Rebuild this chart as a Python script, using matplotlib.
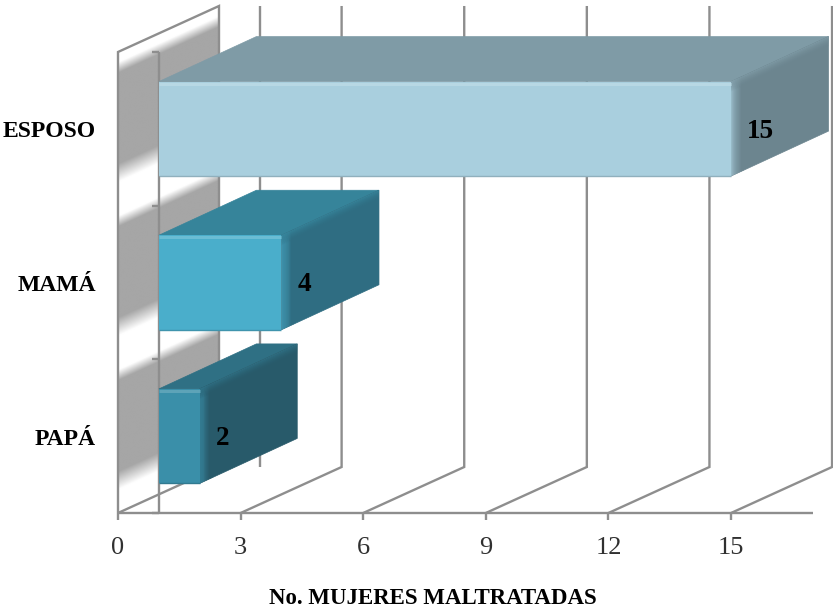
import numpy as np
import matplotlib
matplotlib.use("Agg")
import matplotlib.pyplot as plt
from matplotlib.colors import LinearSegmentedColormap, to_rgb
from matplotlib.patches import Polygon

categories = ["PAPÁ", "MAMÁ", "ESPOSO"]
values = [2, 4, 15]
x_ticks = [0, 3, 6, 9, 12, 15]
x_label = "No. MUJERES MALTRATADAS"
face_colors = ["#3a8fa9", "#4aaecb", "#a9cfde"]
top_colors = ["#2f7084", "#36849a", "#7f9ba6"]
side_colors = ["#285a6a", "#2f6d82", "#6c858f"]

PX_X = 40.87    # pixels per value unit
PX_Y = 153.67   # pixels per category band
BASE = 1        # category axis crosses the value axis here
X_MAX = 17
BAND = 3
WALL_DX, WALL_DY = 101 / PX_X, 46 / PX_Y
BAR_DX, BAR_DY = 97.5 / PX_X, 45 / PX_Y
BAR_H = 0.615
GRID = "#8e8e8e"

plt.rcParams["font.family"] = ["Liberation Serif", "DejaVu Serif"]
fig = plt.figure(figsize=(8.33, 6.14), dpi=100)
ax = fig.add_axes([0, 0, 1, 1])
xlim = (-118 / PX_X, (833 - 118) / PX_X)
ylim = (-(614 - 513) / PX_Y, 513 / PX_Y)
ax.axis("off")


def line(xs, ys, z=3, lw=1.7):
    ax.plot(xs, ys, color=GRID, lw=lw, zorder=z, solid_capstyle="butt",
            solid_joinstyle="miter", clip_on=False)


def mix(a, b, f):
    a, b = np.array(to_rgb(a)), np.array(to_rgb(b))
    return tuple(a + (b - a) * f)


# Side wall: banded shading, sheared along the depth direction
gx = np.linspace(0, WALL_DX, 200)
gy = np.linspace(0, BAND + WALL_DY, 800)
X, Y = np.meshgrid(gx, gy)
phase = (BAND - Y + X * WALL_DY / WALL_DX) % 1
shade = np.interp(phase, [0, 0.07, 0.14, 0.73, 0.85, 1], [0, 0, 1, 1, 0, 0])
cmap = LinearSegmentedColormap.from_list("wall", ["#ffffff", "#a6a6a6"])
wall_pts = [(0, 0), (WALL_DX, WALL_DY), (WALL_DX, BAND + WALL_DY), (0, BAND)]
im = ax.imshow(shade, extent=(gx[0], gx[-1], gy[0], gy[-1]), origin="lower",
               cmap=cmap, vmin=0, vmax=1, aspect="auto", zorder=1)
im.set_clip_path(Polygon(wall_pts, transform=ax.transData))
ax.set_xlim(*xlim)
ax.set_ylim(*ylim)

# Wall outline
line([0, 0, WALL_DX, WALL_DX], [0, BAND, BAND + WALL_DY, WALL_DY])
line([0, WALL_DX], [0, WALL_DY])

# Back-plane gridlines and their floor diagonals
line([BASE + WALL_DX] * 2, [WALL_DY, BAND + WALL_DY])
for t in x_ticks[1:]:
    line([t, t + WALL_DX, t + WALL_DX], [0, WALL_DY, BAND + WALL_DY])

# Front axes
line([0, X_MAX], [0, 0], z=4)
line([BASE, BASE], [0, BAND], z=4)
for t in x_ticks:
    line([t, t], [0, -7 / PX_Y], z=4)
for k in range(BAND + 1):
    line([BASE - 7 / PX_X, BASE], [k, k], z=4)

# One box per category
slope = BAR_DY / BAR_DX
steps = 12
for i, (v, fc, tc, sc) in enumerate(zip(values, face_colors, top_colors, side_colors)):
    z = 10
    y0, y1 = i + 0.5 - BAR_H / 2, i + 0.5 + BAR_H / 2
    ax.add_patch(Polygon([(BASE, y1), (v, y1), (v + BAR_DX, y1 + BAR_DY), (BASE + BAR_DX, y1 + BAR_DY)],
                         fc=tc, ec=tc, lw=0.5, zorder=z))
    ax.add_patch(Polygon([(v, y0), (v, y1), (v + BAR_DX, y1 + BAR_DY), (v + BAR_DX, y0 + BAR_DY)],
                         fc=sc, ec=sc, lw=0.5, zorder=z))
    # Bevel along the front edge of the side face
    for s in range(steps):
        a, b = s / steps, (s + 1) / steps
        e0, e1 = a * 13 / PX_X, b * 13 / PX_X
        ax.add_patch(Polygon([(v + e0, y0 + e0 * slope), (v + e0, y1 + e0 * slope),
                              (v + e1, y1 + e1 * slope), (v + e1, y0 + e1 * slope)],
                             fc=mix(fc, sc, min(1, 0.25 + a)), ec="none", zorder=z))
    # Bevel along the top of the side face
    for s in range(steps):
        a, b = s / steps, (s + 1) / steps
        d0, d1 = a * 10 / PX_Y, b * 10 / PX_Y
        ax.add_patch(Polygon([(v, y1 - d0), (v + BAR_DX, y1 + BAR_DY - d0),
                              (v + BAR_DX, y1 + BAR_DY - d1), (v, y1 - d1)],
                             fc=mix(tc, sc, a), ec="none", alpha=1 - a, zorder=z))
    ax.add_patch(Polygon([(BASE, y0), (v, y0), (v, y1), (BASE, y1)], fc=fc, ec="none", zorder=z + 0.1))
    # Soft rims of the front face
    ax.plot([BASE, v], [y1 - 2 / PX_Y] * 2, color=mix(fc, "#ffffff", 0.18), lw=2.2, zorder=z + 0.2,
            solid_capstyle="butt")
    ax.plot([BASE, v], [y0, y0], color=mix(fc, "#000000", 0.15), lw=1.0, zorder=z + 0.2,
            solid_capstyle="butt")
    ax.text(v + 16 / PX_X, i + 0.5 - 2.5 / PX_Y, str(v), fontsize=19.5, color="black",
            ha="left", va="center", zorder=30, fontweight="bold")
    ax.text(BASE - 63 / PX_X, i + 0.5 - 3 / PX_Y, categories[i], fontsize=17, color="black",
            ha="right", va="center", fontweight="bold", zorder=30)

# Value tick labels and axis title
for t in x_ticks:
    ax.text(t, -35 / PX_Y, str(t), fontsize=19, color="#303030", ha="center", va="center")
ax.text(315 / PX_X, -85 / PX_Y, x_label, fontsize=16.5, fontweight="bold",
        color="black", ha="center", va="center")

fig.savefig("out.png", dpi=100)
